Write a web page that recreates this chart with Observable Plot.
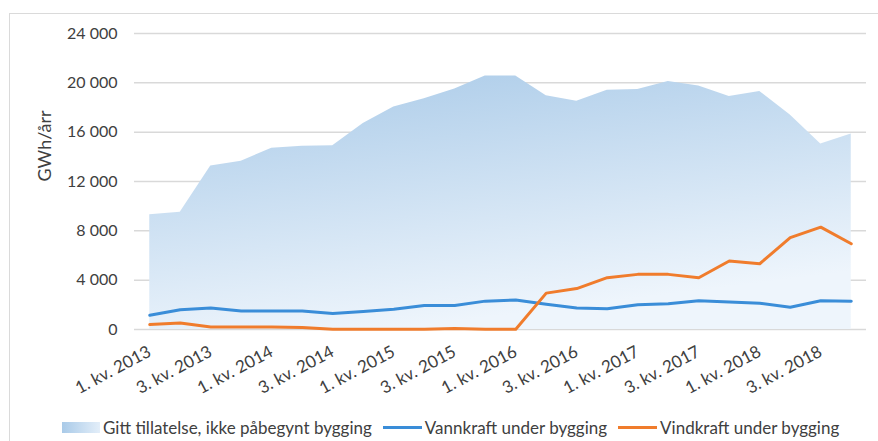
<!DOCTYPE html>
<html>
<head>
<meta charset="utf-8">
<script src="https://cdn.jsdelivr.net/npm/d3@7"></script>
<script src="https://cdn.jsdelivr.net/npm/@observablehq/plot@0.6"></script>
<style>
  html, body { margin: 0; padding: 0; background: #fff; }
  body { width: 878px; height: 441px; overflow: hidden; position: relative; font-family: Lato, "Open Sans", sans-serif; color: #404040; }
  #frame { position: absolute; left: 9px; top: 13px; width: 880px; height: 440px; border: 1px solid #dadada; box-sizing: border-box; pointer-events: none; }
  #chart svg { display: block; }
  #legend { position: absolute; top: 417px; left: 62px; display: flex; align-items: center; font-size: 17px; white-space: nowrap; }
  .sw { display: inline-block; margin-right: 3px; }
  .item { display: flex; align-items: center; margin-right: 11px; }
</style>
</head>
<body>
<div id="chart"></div>
<div id="frame"></div>
<div id="legend"></div>
<script>
const quarters = [
  "1. kv. 2013","2. kv. 2013","3. kv. 2013","4. kv. 2013",
  "1. kv. 2014","2. kv. 2014","3. kv. 2014","4. kv. 2014",
  "1. kv. 2015","2. kv. 2015","3. kv. 2015","4. kv. 2015",
  "1. kv. 2016","2. kv. 2016","3. kv. 2016","4. kv. 2016",
  "1. kv. 2017","2. kv. 2017","3. kv. 2017","4. kv. 2017",
  "1. kv. 2018","2. kv. 2018","3. kv. 2018","4. kv. 2018"
];
const gittTillatelse = [9300, 9500, 13250, 13650, 14700, 14850, 14900, 16700, 18050, 18700, 19500, 20550, 20550, 18950, 18500, 19400, 19450, 20100, 19750, 18900, 19300, 17400, 15050, 15850];
const vannkraft = [1150, 1600, 1750, 1500, 1500, 1500, 1300, 1450, 1650, 1950, 1950, 2300, 2400, 2050, 1750, 1680, 2000, 2080, 2330, 2220, 2130, 1800, 2330, 2300];
const vindkraft = [400, 520, 200, 200, 200, 170, 30, 30, 30, 30, 80, 20, 20, 2950, 3320, 4200, 4470, 4470, 4200, 5550, 5330, 7450, 8300, 6950];
const yTicks = [0, 4000, 8000, 12000, 16000, 20000, 24000];
const xTickLabels = quarters.filter((d, i) => i % 2 === 0);
const yTitle = "GWh/årr";
const seriesNames = ["Gitt tillatelse, ikke påbegynt bygging", "Vannkraft under bygging", "Vindkraft under bygging"];
const seriesColors = ["#b3d1eb", "#3a8dd8", "#f07c2c"];

const data = quarters.map((q, i) => ({q, gitt: gittTillatelse[i], vann: vannkraft[i], vind: vindkraft[i]}));

const fmt = d => d3.format(",")(d).replace(/,/g, " ");

const defs = () => {
  const g = d3.create("svg:defs");
  const lg = g.append("linearGradient").attr("id", "areaGrad")
    .attr("x1", "0").attr("y1", "0").attr("x2", "0.35").attr("y2", "1");
  lg.append("stop").attr("offset", "0").attr("stop-color", "#a9cae8");
  lg.append("stop").attr("offset", "1").attr("stop-color", "#eef5fc");
  return g.node();
};

const chart = Plot.plot({
  width: 878,
  height: 400,
  marginTop: 33,
  marginBottom: 71,
  marginLeft: 134,
  marginRight: 12,
  style: {fontFamily: "Lato, 'Open Sans', sans-serif", fontSize: "16px", color: "#404040", background: "transparent"},
  x: {
    type: "point",
    domain: quarters,
    padding: 0.5,
    round: false,
    ticks: xTickLabels,
    tickSize: 0,
    tickRotate: -28,
    tickPadding: 21,
    label: null
  },
  y: {
    domain: [0, 24000],
    ticks: yTicks,
    tickFormat: fmt,
    tickSize: 0,
    tickPadding: 17,
    label: null
  },
  marks: [
    defs,
    Plot.ruleY(yTicks, {stroke: "#d9d9d9", strokeWidth: 1.5}),
    Plot.areaY(data, {x: "q", y: "gitt", fill: "url(#areaGrad)"}),
    Plot.lineY(data, {x: "q", y: "vann", stroke: seriesColors[1], strokeWidth: 3}),
    Plot.lineY(data, {x: "q", y: "vind", stroke: seriesColors[2], strokeWidth: 3}),
    Plot.text([yTitle], {text: d => d, frameAnchor: "left", rotate: -90, dx: -89, fontSize: 18, fill: "#404040"})
  ]
});
document.getElementById("chart").append(chart);
d3.select(chart).selectAll("g[aria-label='x-axis tick label'] text").style("font-size", "17px");

const legend = d3.select("#legend");
seriesNames.forEach((name, i) => {
  const item = legend.append("div").attr("class", "item");
  if (i === 0) {
    item.append("span").attr("class", "sw")
      .style("width", "38px").style("height", "11px")
      .style("background", "linear-gradient(90deg, #a9cae8, #e3eef9)");
  } else {
    item.append("span").attr("class", "sw")
      .style("width", "39px").style("height", "3px")
      .style("background", seriesColors[i]);
  }
  item.append("span").text(name);
});
</script>
</body>
</html>
